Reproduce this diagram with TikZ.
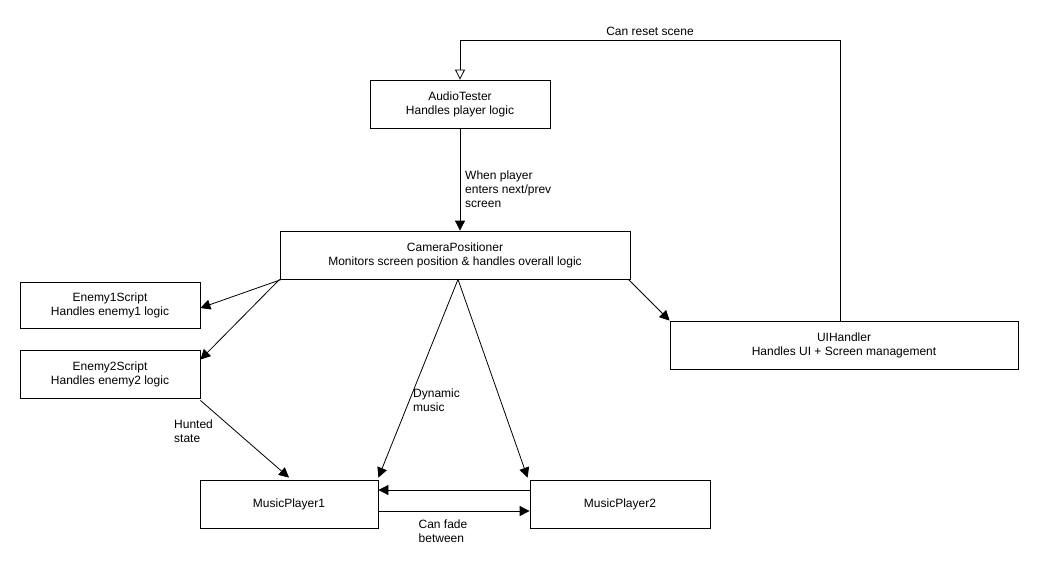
\documentclass[tikz,border=0pt]{standalone}
\usepackage{fontspec}
\setmainfont{Liberation Sans}
\usetikzlibrary{arrows.meta,calc}
\begin{document}
\begin{tikzpicture}[x=1pt,y=-1pt,
 box/.style={draw,line width=0.8pt,minimum height=48pt,align=center,inner sep=0pt,font=\fontsize{12}{14}\selectfont},
 lbl/.style={align=left,font=\fontsize{12}{14}\selectfont,inner sep=0pt},
 arr/.style={-{Triangle[length=10pt,width=10pt]},line width=0.8pt},
 oarr/.style={-{Triangle[open,length=10pt,width=10pt]},line width=0.8pt}]
\useasboundingbox (0,0) rectangle (1040,570);
\node[box,minimum width=180pt] (at) at (460,104) {AudioTester\\Handles player logic};
\node[box,minimum width=350pt] (cam) at (455,255) {CameraPositioner\\Monitors screen position \& handles overall logic};
\node[box,minimum width=180pt,minimum height=46pt] (e1) at (110,305) {Enemy1Script\\Handles enemy1 logic};
\node[box,minimum width=180pt] (e2) at (110,374) {Enemy2Script\\Handles enemy2 logic};
\node[box,minimum width=348pt] (ui) at (844,345) {UIHandler\\Handles UI + Screen management};
\node[box,minimum width=178pt] (m1) at (289,504) {MusicPlayer1};
\node[box,minimum width=180pt] (m2) at (620,504) {MusicPlayer2};
\coordinate (c1) at (840,40);
\coordinate (c2) at (460,40);
\draw[oarr] (ui.north -| c1) -- (c1) -- (c2) -- (at.north);
\node[lbl] (l1) at (650,31) {Can reset scene};
\draw[arr] (at.south) -- (cam.north -| at.south);
\node[lbl,anchor=west] (l2) at (465,189) {When player\\enters next/prev\\screen};
\draw[arr] ($(cam.south west)+(2,0)$) -- ($(e1.east)+(0,3)$);
\draw[arr] (cam.south west) -- ($(e2.north east)+(0,10)$);
\draw[arr] ($(cam.south east)+(-2,0)$) -- ($(ui.north west)+(0,0)$);
\draw[arr] ($(cam.south)+(3,0)$) -- ($(m1.north east)+(0,-2)$);
\draw[arr] ($(cam.south)+(3,0)$) -- ($(m2.north west)+(-2,-2)$);
\node[lbl,anchor=west] (l3) at (413,400) {Dynamic\\music};
\draw[arr] ($(e2.south east)+(0,2)$) -- ($(m1.north)+(0,-2)$);
\node[lbl,anchor=west] (l4) at (174,431) {Hunted\\state};
\draw[arr] ($(m2.west)+(0,-14)$) -- ($(m1.east)+(0,-14)$);
\draw[arr] ($(m1.east)+(0,7)$) -- ($(m2.west)+(0,7)$);
\node[lbl] (l5) at (443,531) {Can fade\\between};
\end{tikzpicture}
\end{document}
